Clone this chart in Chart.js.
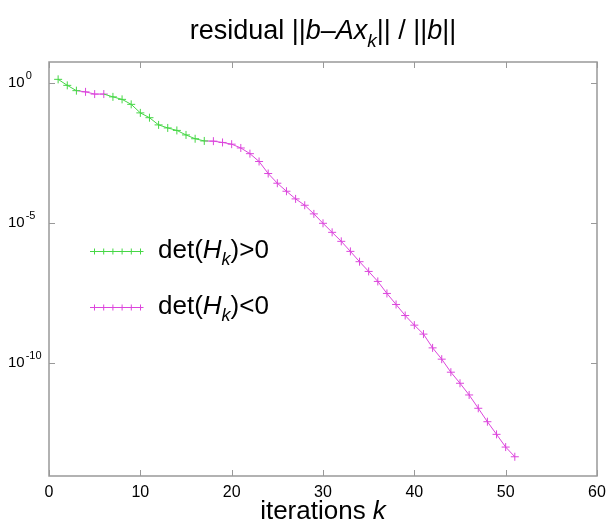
<!DOCTYPE html>
<html>
<head>
<meta charset="utf-8">
<script src="https://cdn.jsdelivr.net/npm/chart.js@4/dist/chart.umd.min.js"></script>
<style>
	html, body { margin: 0; padding: 0; background: #fff; }
	#wrap { width: 608px; height: 522px; }
</style>
</head>
<body>
<div id="wrap"><canvas id="myChart" width="608" height="522"></canvas></div>
<script>
var iterations = [1, 2, 3, 4, 5, 6, 7, 8, 9, 10, 11, 12, 13, 14, 15, 16, 17, 18, 19, 20,
	21, 22, 23, 24, 25, 26, 27, 28, 29, 30, 31, 32, 33, 34, 35, 36, 37, 38, 39, 40,
	41, 42, 43, 44, 45, 46, 47, 48, 49, 50, 51];

// relative residual
var residual = [1.39, 0.847, 0.547, 0.495, 0.413, 0.413, 0.328, 0.267, 0.177, 0.0877,
	0.0590, 0.0326, 0.0254, 0.0207, 0.01426, 0.01042, 0.00869, 0.00855, 0.00767, 0.00667,
	0.00488, 0.00305, 0.00160, 5.94e-4, 2.67e-4, 1.38e-4, 7.36e-5, 4.35e-5, 2.14e-5, 9.84e-6,
	4.68e-6, 2.23e-6, 9.75e-7, 4.17e-7, 1.87e-7, 8.20e-8, 3.05e-8, 1.23e-8, 4.95e-9, 2.24e-9,
	1.07e-9, 3.45e-10, 1.36e-10, 4.65e-11, 1.87e-11, 7.13e-12, 2.38e-12, 7.87e-13, 2.78e-13, 9.75e-14,
	4.39e-14];

// sign of det(H_k) at each iteration
var detSign = [1, 1, 1, -1, -1, -1, 1, 1, 1, 1, 1, 1, 1, 1, 1, 1, 1, -1, -1, -1,
	-1, -1, -1, -1, -1, -1, -1, -1, -1, -1, -1, -1, -1, -1, -1, -1, -1, -1, -1, -1,
	-1, -1, -1, -1, -1, -1, -1, -1, -1, -1, -1];

var xTicks = [0, 10, 20, 30, 40, 50, 60];
var yTicks = [1, 1e-5, 1e-10];
var yTickExponents = ['0', '-5', '-10'];

var green = 'rgb(70,215,70)';
var magenta = 'rgb(220,70,220)';
var axisGray = '#999';
var fontName = '"Liberation Sans", Arial, Helvetica, sans-serif';

// one dataset per sign; the point before a run is borrowed (hidden) so the line joins up
function buildSeries(sign) {
	var points = [];
	var radii = [];
	for (var i = 0; i < iterations.length; i++) {
		var own = detSign[i] == sign;
		var nextOwn = i + 1 < iterations.length && detSign[i + 1] == sign;
		if (own || nextOwn) {
			points.push({x: iterations[i], y: residual[i]});
		} else {
			points.push({x: iterations[i], y: null});
		}
		radii.push(own ? 4 : 0);
	}
	return {points: points, radii: radii};
}

var pos = buildSeries(1);
var neg = buildSeries(-1);

// draws text made of pieces (normal / italic / subscript)
function richWidth(ctx, parts) {
	var w = 0;
	for (var p of parts) {
		ctx.font = (p.italic ? 'italic ' : '') + p.size + 'px ' + fontName;
		w += ctx.measureText(p.t).width;
	}
	return w;
}

function drawRich(ctx, parts, x, y, align) {
	var w = richWidth(ctx, parts);
	var cx = align == 'center' ? x - w / 2 : x;
	ctx.textAlign = 'left';
	ctx.textBaseline = 'alphabetic';
	ctx.fillStyle = '#000';
	for (var p of parts) {
		ctx.font = (p.italic ? 'italic ' : '') + p.size + 'px ' + fontName;
		ctx.fillText(p.t, cx, y + (p.dy || 0));
		cx += ctx.measureText(p.t).width;
	}
}

function drawPlus(ctx, x, y, r) {
	ctx.beginPath();
	ctx.moveTo(x - r, y); ctx.lineTo(x + r, y);
	ctx.moveTo(x, y - r); ctx.lineTo(x, y + r);
	ctx.stroke();
}

var framePlugin = {
	id: 'frame',
	beforeDatasetsDraw: function(chart) {
		var ctx = chart.ctx;
		var a = chart.chartArea;
		var xs = chart.scales.x;
		var ys = chart.scales.y;
		ctx.save();
		ctx.strokeStyle = axisGray;
		ctx.lineWidth = 1.5;
		ctx.strokeRect(a.left, a.top, a.right - a.left, a.bottom - a.top);
		ctx.lineWidth = 1;
		ctx.beginPath();
		for (var v of xTicks) {
			var px = Math.round(xs.getPixelForValue(v)) + 0.5;
			ctx.moveTo(px, a.bottom); ctx.lineTo(px, a.bottom - 6);
			ctx.moveTo(px, a.top); ctx.lineTo(px, a.top + 6);
		}
		for (var t of yTicks) {
			var py = Math.round(ys.getPixelForValue(t)) + 0.5;
			ctx.moveTo(a.left, py); ctx.lineTo(a.left + 6, py);
			ctx.moveTo(a.right, py); ctx.lineTo(a.right - 6, py);
		}
		ctx.stroke();
		ctx.restore();
	},
	afterDraw: function(chart) {
		var ctx = chart.ctx;
		var a = chart.chartArea;
		var xs = chart.scales.x;
		var ys = chart.scales.y;
		ctx.save();

		// x tick labels
		ctx.fillStyle = '#000';
		ctx.font = '16px ' + fontName;
		ctx.textAlign = 'center';
		ctx.textBaseline = 'middle';
		for (var v of xTicks) {
			ctx.fillText(String(v), xs.getPixelForValue(v), a.bottom + 17);
		}

		// y tick labels as 10^n
		for (var i = 0; i < yTicks.length; i++) {
			var py = ys.getPixelForValue(yTicks[i]);
			ctx.font = '15px ' + fontName;
			ctx.textAlign = 'left';
			ctx.textBaseline = 'middle';
			ctx.fillText('10', 8, py);
			var w = ctx.measureText('10').width;
			ctx.font = '11px ' + fontName;
			ctx.fillText(yTickExponents[i], 8 + w + 1, py - 7);
		}

		// title
		drawRich(ctx, [
			{t: 'residual ||', size: 27},
			{t: 'b', size: 27, italic: true},
			{t: '\u2013', size: 27},
			{t: 'Ax', size: 27, italic: true},
			{t: 'k', size: 19, italic: true, dy: 8},
			{t: '|| / ||', size: 27},
			{t: 'b', size: 27, italic: true},
			{t: '||', size: 27}
		], (a.left + a.right) / 2, 39, 'center');

		// x axis title
		drawRich(ctx, [
			{t: 'iterations ', size: 26},
			{t: 'k', size: 26, italic: true}
		], (a.left + a.right) / 2, 519, 'center');

		// legend
		var entries = [
			{color: green, y: 251, rel: '>0'},
			{color: magenta, y: 307, rel: '<0'}
		];
		for (var e of entries) {
			ctx.strokeStyle = e.color;
			ctx.lineWidth = 1;
			ctx.beginPath();
			ctx.moveTo(90, e.y + 0.5); ctx.lineTo(143, e.y + 0.5);
			ctx.stroke();
			for (var m = 0; m < 6; m++) {
				drawPlus(ctx, 94.5 + m * 9.2, e.y + 0.5, 3);
			}
			drawRich(ctx, [
				{t: 'det(', size: 26},
				{t: 'H', size: 26, italic: true},
				{t: 'k', size: 18, italic: true, dy: 7},
				{t: ')' + e.rel, size: 26}
			], 158, e.y + 7, 'left');
		}
		ctx.restore();
	}
};

var canvas = document.getElementById('myChart');

var chart = new Chart(canvas, {
	type: 'line',
	data: {
		datasets: [
			{
				label: 'det(H_k)>0',
				data: pos.points,
				borderColor: green,
				pointBorderColor: green,
				pointBackgroundColor: green,
				pointStyle: 'cross',
				pointRadius: pos.radii,
				pointBorderWidth: 1,
				borderWidth: 1,
				spanGaps: false,
				fill: false
			},
			{
				label: 'det(H_k)<0',
				data: neg.points,
				borderColor: magenta,
				pointBorderColor: magenta,
				pointBackgroundColor: magenta,
				pointStyle: 'cross',
				pointRadius: neg.radii,
				pointBorderWidth: 1,
				borderWidth: 1,
				spanGaps: false,
				fill: false
			}
		]
	},
	options: {
		responsive: false,
		animation: false,
		devicePixelRatio: 1,
		layout: {padding: {left: 41, right: 11, top: 62, bottom: 38}},
		plugins: {
			legend: {display: false},
			title: {display: false},
			tooltip: {enabled: false}
		},
		scales: {
			x: {
				type: 'linear',
				min: 0,
				max: 60,
				ticks: {display: false, stepSize: 10},
				grid: {display: false},
				border: {display: false}
			},
			y: {
				type: 'logarithmic',
				min: Math.pow(10, -14.04),
				max: Math.pow(10, 0.763),
				ticks: {display: false},
				grid: {display: false},
				border: {display: false}
			}
		}
	},
	plugins: [framePlugin]
});
</script>
</body>
</html>
